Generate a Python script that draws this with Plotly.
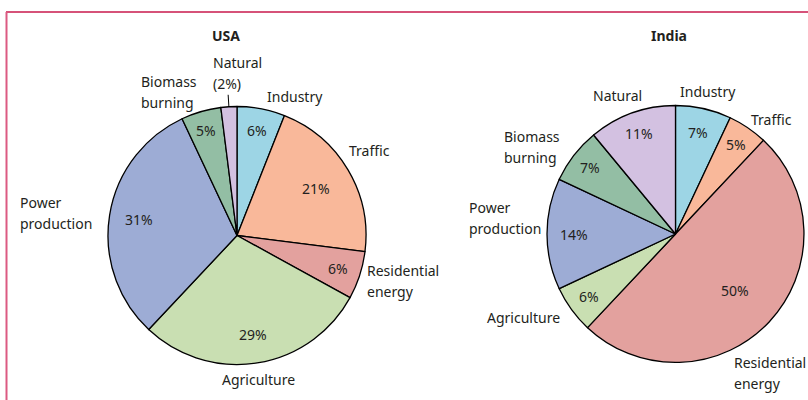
import math
import plotly.graph_objects as go

# ---- data ----
categories = ["Industry", "Traffic", "Residential energy", "Agriculture",
              "Power production", "Biomass burning", "Natural"]
usa_values = [6, 21, 6, 29, 31, 5, 2]
india_values = [7, 5, 50, 6, 14, 7, 11]
titles = ["USA", "India"]

# ---- style ----
W, H = 808, 400
colors = ["#9DD5E5", "#F9B89A", "#E3A19E", "#C9DFB2", "#9DACD5", "#93BEA4", "#D3C1E1"]
FONT = "Noto Sans"
TXT = "#231F20"
FS = 14
LINE_GAP = 21

pies = [
    dict(values=usa_values, cx=237, cy=235.5, r=129,
         frac=[0.83, 0.71, 0.82, 0.78, 0.77, 0.85, None]),
    dict(values=india_values, cx=675.5, cy=234, r=128.5,
         frac=[0.81, 0.84, 0.64, 0.83, 0.79, 0.84, 0.83]),
]

def px(x):
    return x / W

def py(y):
    return 1 - y / H

fig = go.Figure()
annotations = []
shapes = []

def txt(text, x, y, xanchor="center", align="center"):
    annotations.append(dict(x=px(x), y=py(y), xref="paper", yref="paper",
                            text=text, showarrow=False, xanchor=xanchor, yanchor="middle",
                            align=align, font=dict(family=FONT, size=FS, color=TXT)))

for p in pies:
    fig.add_trace(go.Pie(
        labels=categories, values=p["values"], sort=False, direction="clockwise",
        rotation=0, textinfo="none", hoverinfo="label+percent",
        marker=dict(colors=colors, line=dict(color="black", width=1.3)),
        domain=dict(x=[px(p["cx"] - p["r"]), px(p["cx"] + p["r"])],
                    y=[py(p["cy"] + p["r"]), py(p["cy"] - p["r"])]),
        showlegend=False,
    ))
    total = sum(p["values"])
    cum = 0
    for i, v in enumerate(p["values"]):
        mid = (cum + v / 2) / total * 2 * math.pi
        cum += v
        f = p["frac"][i]
        if f is None:
            continue
        x = p["cx"] + f * p["r"] * math.sin(mid)
        y = p["cy"] - f * p["r"] * math.cos(mid)
        txt(f"{v}%", x, y)

# USA natural leader line (radial at slice mid-angle)
p = pies[0]
tot = sum(p["values"])
mid_nat = (tot - p["values"][6] / 2) / tot * 2 * math.pi
r0, r1 = p["r"], p["r"] + 12
shapes.append(dict(type="line", xref="paper", yref="paper",
                   x0=px(p["cx"] + r0 * math.sin(mid_nat)), y0=py(p["cy"] - r0 * math.cos(mid_nat)),
                   x1=px(p["cx"] + r1 * math.sin(mid_nat)), y1=py(p["cy"] - r1 * math.cos(mid_nat)),
                   line=dict(color="black", width=1)))

def lab(text, x, y, anchor="left"):
    lines = text.split("\n")
    n = len(lines)
    for k, line in enumerate(lines):
        yy = y + (k - (n - 1) / 2) * LINE_GAP
        txt(line, x, yy, xanchor=anchor, align=anchor)

# USA
lab(f"Natural\n({usa_values[6]}%)", 211, 73.5)
lab("Biomass\nburning", 139, 92)
lab("Industry", 265, 96)
lab("Traffic", 347, 151)
lab("Residential\nenergy", 365, 280.5)
lab("Agriculture", 258, 379, "center")
lab("Power\nproduction", 18, 212.5)
# India
lab("Natural", 591, 95)
lab("Industry", 678, 91)
lab("Traffic", 749, 119)
lab("Biomass\nburning", 502, 147)
lab("Power\nproduction", 467, 218)
lab("Agriculture", 485, 317)
lab("Residential\nenergy", 732, 372.5)

# titles
for t, x in zip(titles, [226, 669]):
    txt(f"<b>{t}</b>", x, 35)

# frame lines
shapes.append(dict(type="line", xref="paper", yref="paper", x0=px(6), x1=px(W), y0=py(12), y1=py(12),
                   line=dict(color="#C8184C", width=1.5)))
shapes.append(dict(type="line", xref="paper", yref="paper", x0=px(6.5), x1=px(6.5), y0=py(12), y1=py(H),
                   line=dict(color="#DC5A82", width=2)))

fig.update_layout(width=W, height=H, margin=dict(l=0, r=0, t=0, b=0),
                  paper_bgcolor="white", plot_bgcolor="white",
                  annotations=annotations, shapes=shapes)
fig.write_html("out.html", config={"displayModeBar": False},
               post_script="document.body.style.margin='0';document.body.style.overflow='hidden';")
